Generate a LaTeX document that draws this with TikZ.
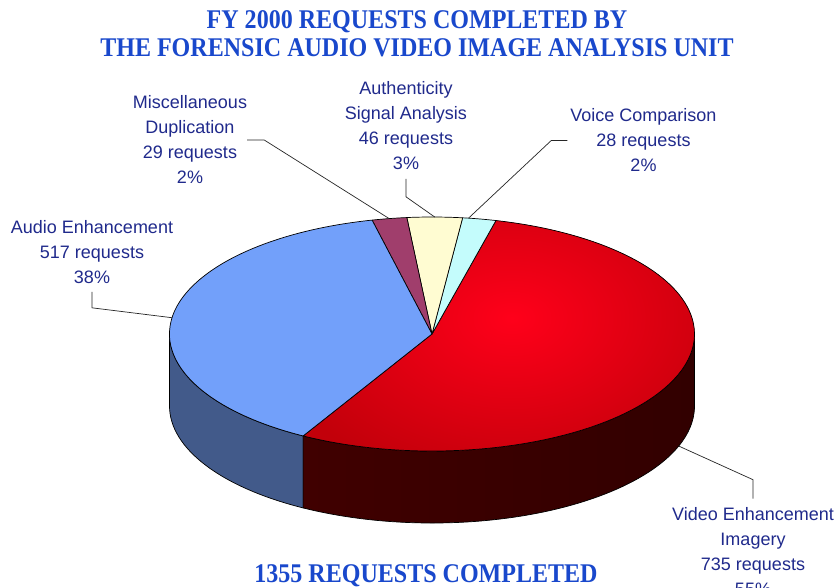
\documentclass[tikz,border=0pt]{standalone}
\usepackage{fontspec}
\setmainfont{Liberation Sans}
\newfontfamily\titlefont{Liberation Serif}[FakeStretch=0.89]
\definecolor{titleblue}{RGB}{25,72,204}
\definecolor{labelnavy}{RGB}{32,42,140}
\definecolor{audiotop}{RGB}{114,160,250}
\definecolor{audioside}{RGB}{66,90,138}
\definecolor{videotop}{RGB}{194,0,10}
\definecolor{videoglow}{RGB}{255,0,26}
\definecolor{videosideA}{RGB}{64,0,0}
\definecolor{videosideB}{RGB}{128,0,6}
\definecolor{videosideC}{RGB}{50,0,0}
\definecolor{miscfill}{RGB}{160,62,108}
\definecolor{authfill}{RGB}{255,252,210}
\definecolor{voicefill}{RGB}{196,252,252}

\begin{document}
\begin{tikzpicture}
	[x=1pt, y=1pt,
	 slicelabel/.style={align=center, text=labelnavy, font=\fontsize{18}{25}\selectfont, inner sep=0pt},
	 heading/.style={align=center, text=titleblue, font=\titlefont\bfseries\fontsize{27}{28}\selectfont, inner sep=0pt},
	 rim/.style={draw=black, line width=0.7pt, line join=round},
	 leaderline/.style={draw=black!85, line width=0.7pt}]
   \useasboundingbox (0,0) rectangle (836,-587);
   \fill[white] (0,0) rectangle (836,-587);
   \coordinate (c) at (432,-334);
   \coordinate (cb) at (432,-406);

   % front walls
   \path[rim, fill=audioside] (c) ++(180:262.5 and 117)
      arc[start angle=180, end angle=240.6, x radius=262.5, y radius=117] -- ++(0,-72)
      arc[start angle=240.6, end angle=180, x radius=262.5, y radius=117] -- cycle;
   \path[rim, left color=videosideA, middle color=videosideB, right color=videosideC] (c) ++(240.6:262.5 and 117)
      arc[start angle=240.6, end angle=360, x radius=262.5, y radius=117] -- ++(0,-72)
      arc[start angle=360, end angle=240.6, x radius=262.5, y radius=117] -- cycle;

   % top slices
   \path[rim, fill=videotop, path picture={
      \shade[inner color=videoglow, outer color=videotop] (512,-318) ellipse [x radius=250, y radius=170];}]
      (c) -- ++(-119.4:262.5 and 117) arc[start angle=-119.4, end angle=75.9, x radius=262.5, y radius=117] -- cycle;
   \path[rim, fill=voicefill] (c) -- ++(75.9:262.5 and 117)
      arc[start angle=75.9, end angle=83.3, x radius=262.5, y radius=117] -- cycle;
   \path[rim, fill=authfill] (c) -- ++(83.3:262.5 and 117)
      arc[start angle=83.3, end angle=95.5, x radius=262.5, y radius=117] -- cycle;
   \path[rim, fill=miscfill] (c) -- ++(95.5:262.5 and 117)
      arc[start angle=95.5, end angle=103.2, x radius=262.5, y radius=117] -- cycle;
   \path[rim, fill=audiotop] (c) -- ++(103.2:262.5 and 117)
      arc[start angle=103.2, end angle=240.6, x radius=262.5, y radius=117] -- cycle;

   % leader ends on the pie
   \path (c) ++(99.4:262.5 and 117) coordinate (miscend);
   \path (c) ++(89.4:262.5 and 117) coordinate (authend);
   \path (c) ++(82:262.5 and 117) coordinate (voiceend);
   \path (c) ++(172:262.5 and 117) coordinate (audioend);
   \path (cb) ++(-20:262.5 and 117) coordinate (videoend);

   % titles
   \node[heading] (title) at (417,-34) {FY 2000 REQUESTS COMPLETED BY\\THE FORENSIC AUDIO VIDEO IMAGE ANALYSIS UNIT};
   \node[heading] (total) at (426,-576) {1355 REQUESTS COMPLETED};

   % slice labels
   \node[slicelabel] (misc) at (190,-140) {Miscellaneous\\Duplication\\29 requests\\2\%};
   \node[slicelabel] (auth) at (406,-125.5) {Authenticity\\Signal Analysis\\46 requests\\3\%};
   \node[slicelabel] (voice) at (643.5,-140.5) {Voice Comparison\\28 requests\\2\%};
   \node[slicelabel] (audio) at (92,-252) {Audio Enhancement\\517 requests\\38\%};
   \node[slicelabel] (video) at (753,-552) {Video Enhancement\\Imagery\\735 requests\\55\%};

   \draw[leaderline] (misc.east) -- ++(17,0) -- (miscend);
   \draw[leaderline] ([yshift=-9pt]auth.south) -- ++(0,-18) -- (authend);
   \draw[leaderline] ([xshift=-3pt]voice.west) -- ++(-16,0) -- (voiceend);
   \draw[leaderline] ([yshift=-8pt]audio.south) -- ++(0,-16) -- (audioend);
   \draw[leaderline] ([yshift=9pt]video.north) -- ++(0,19) -- (videoend);

\end{tikzpicture}
\end{document}
